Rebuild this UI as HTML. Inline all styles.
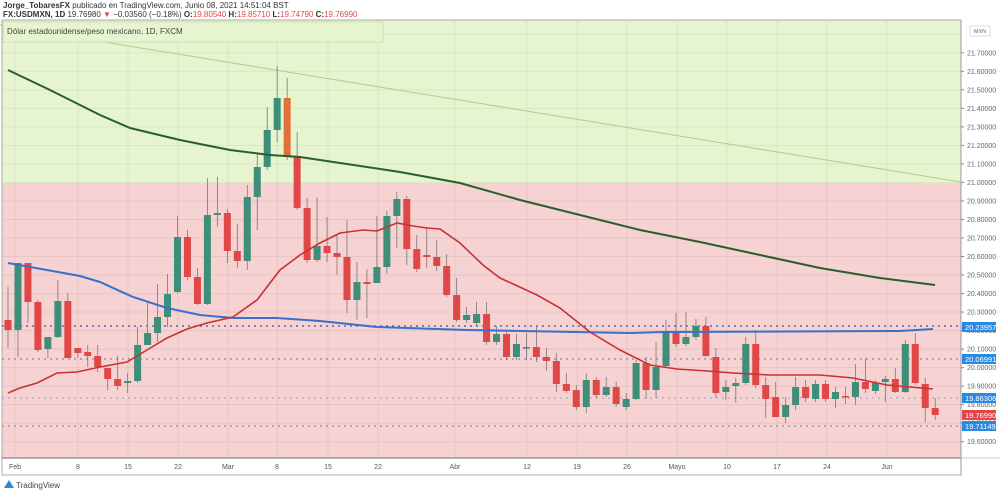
<!DOCTYPE html>
<html><head><meta charset="utf-8"><style>
body{margin:0;width:1000px;height:494px;background:#fff;overflow:hidden;font-family:"Liberation Sans",sans-serif;position:relative}
.h{position:absolute;left:3px;font-size:8px;color:#333;white-space:nowrap}
</style></head><body>
<div class="h" style="top:1px"><b>Jorge_TobaresFX</b> publicado en TradingView.com, Junio 08, 2021 14:51:04 BST</div>
<div class="h" style="top:10px"><b>FX:USDMXN, 1D</b> 19.76980 <span style="color:#e04848">▼</span> −0.03560 (−0.18%) <b>O:</b><span style="color:#e04848">19.80540</span> <b>H:</b><span style="color:#e04848">19.85710</span> <b>L:</b><span style="color:#e04848">19.74790</span> <b>C:</b><span style="color:#e04848">19.76990</span></div>
<svg id="s" width="1000" height="494" style="position:absolute;left:0;top:0" xmlns="http://www.w3.org/2000/svg"></svg>
<script>
var s='';
s+='<rect x="2" y="20" width="959" height="163" fill="#e6f5cf"/>';
s+='<rect x="2" y="183" width="959" height="275" fill="#f6d2d2"/>';
// horizontal grid
for(var i=0;i<=22;i++){var p=19.6+i*0.1;var y=441.7-(p-19.6)*185.2;if(y>20&&y<458)s+='<line x1="2" x2="961" y1="'+y+'" y2="'+y+'" stroke="#000" stroke-opacity="0.06"/>';}
var xt=[[15,'Feb'],[78,'8'],[128,'15'],[178,'22'],[228,'Mar'],[277,'8'],[328,'15'],[378,'22'],[455,'Abr'],[527,'12'],[577,'19'],[627,'26'],[677,'Mayo'],[727,'10'],[777,'17'],[827,'24'],[887,'Jun']];
xt.forEach(function(t){s+='<line x1="'+t[0]+'" x2="'+t[0]+'" y1="20" y2="458" stroke="#000" stroke-opacity="0.06"/>';s+='<text x="'+t[0]+'" y="469" font-size="7" fill="#555" text-anchor="middle">'+t[1]+'</text>';});
// price labels
for(var i=0;i<=21;i++){var p=19.6+i*0.1;var y=441.7-(p-19.6)*185.2;s+='<text x="967" y="'+(y+2.5)+'" font-size="7" fill="#666">'+p.toFixed(5)+'</text><line x1="961" x2="964" y1="'+y+'" y2="'+y+'" stroke="#888"/>';}
s+='<rect x="970" y="26" width="20" height="10" fill="#fff" stroke="#bbb" stroke-width="0.5"/><text x="980" y="33" font-size="5.5" fill="#666" text-anchor="middle">MXN</text>';
// diag line
s+='<line x1="0" y1="25" x2="961" y2="182" stroke="#a8d08d" stroke-width="1"/>';
// title box
s+='<rect x="3" y="22" width="380" height="20" fill="#e6f5cf" stroke="#c8ddb0" stroke-width="0.8"/><text x="7" y="34" font-size="8" fill="#444">Dólar estadounidense/peso mexicano, 1D, FXCM</text>';
// dotted lines
[[326,'#3355aa'],[359,'#8888aa'],[398,'#aab'],[426,'#8888aa']].forEach(function(d){s+='<line x1="2" x2="961" y1="'+d[0]+'" y2="'+d[0]+'" stroke="'+d[1]+'" stroke-width="1.3" stroke-dasharray="2,4"/>';});
function pl(pts,c,w){s+='<polyline fill="none" stroke="'+c+'" stroke-width="'+w+'" points="'+pts.map(function(p){return p.join(',')}).join(' ')+'"/>';}
var C=[[320,330,287,348,'r'],[263,330,263,357,'g'],[263,302,263,323,'r'],[302,350,300,352,'r'],[349,337,337,358,'g'],[337,301,280,338,'g'],[301,358,293,358,'r'],[348,353,348,358,'r'],[352,356,345,367,'r'],[356,367,345,372,'r'],[368,379,368,390,'r'],[379,386,356,390,'r'],[383,381,373,393,'g'],[381,345,327,383,'g'],[345,333,301,345,'g'],[333,317,284,342,'g'],[317,294,274,327,'g'],[292,237,216,293,'g'],[237,277,230,280,'r'],[277,304,268,305,'r'],[304,215,178,305,'g'],[215,213,177,227,'g'],[213,251,209,263,'r'],[251,261,224,268,'r'],[261,197,185,270,'g'],[197,167,153,230,'g'],[167,130,107,170,'g'],[130,98,66,142,'g'],[98,156,78,160,'o'],[156,208,132,210,'r'],[208,260,198,263,'r'],[260,246,197,262,'g'],[246,253,217,262,'r'],[253,257,235,275,'r'],[257,300,220,313,'r'],[300,282,262,320,'g'],[282,284,269,318,'r'],[283,267,216,283,'g'],[267,216,211,274,'g'],[216,199,192,248,'g'],[199,249,196,265,'r'],[249,269,235,272,'r'],[255,257,227,268,'r'],[257,266,240,271,'r'],[266,295,254,297,'r'],[295,320,278,322,'r'],[320,315,307,323,'g'],[323,314,302,327,'g'],[314,342,302,345,'r'],[342,334,326,345,'g'],[334,357,332,360,'r'],[357,344,334,360,'g'],[347,348,333,360,'g'],[347,357,327,362,'r'],[357,361,348,371,'r'],[361,384,353,392,'r'],[384,391,373,393,'r'],[390,407,385,410,'r'],[407,380,373,413,'g'],[380,395,377,398,'r'],[395,387,377,397,'g'],[387,404,382,407,'r'],[407,399,393,410,'g'],[399,363,360,400,'g'],[363,390,357,399,'r'],[390,367,342,398,'g'],[366,332,320,367,'g'],[332,344,313,347,'r'],[344,337,312,346,'g'],[337,326,319,340,'g'],[326,356,317,357,'r'],[357,393,348,398,'r'],[392,387,380,400,'g'],[386,383,378,403,'g'],[383,344,337,385,'g'],[344,385,330,388,'r'],[385,399,377,418,'r'],[397,417,382,417,'r'],[417,405,397,423,'g'],[405,387,377,410,'g'],[387,398,380,402,'r'],[399,384,380,402,'g'],[384,399,380,402,'r'],[399,392,387,408,'g'],[396,397,387,404,'r'],[397,382,364,405,'g'],[382,389,358,393,'r'],[391,383,380,394,'g'],[382,379,376,402,'g'],[379,392,368,393,'r'],[392,344,340,393,'g'],[344,383,333,385,'r'],[384,408,378,422,'r'],[408,415,398,420,'r']];
C.forEach(function(c,i){var x=8+i*9.97;var col=c[4]=='g'?'#3e8e7a':(c[4]=='o'?'#e0703c':'#e04848');var t=Math.min(c[0],c[1]),b=Math.max(c[0],c[1]);if(b-t<1.5)b=t+1.5;
s+='<line x1="'+x+'" x2="'+x+'" y1="'+c[2]+'" y2="'+c[3]+'" stroke="#777" stroke-width="0.8"/>';
s+='<rect x="'+(x-3.5)+'" y="'+t+'" width="7" height="'+(b-t)+'" fill="'+col+'"/>';});
pl([[8,70],[50,90],[100,115],[130,128],[180,140],[230,150],[270,155],[300,157],[340,163],[400,172],[460,183],[520,200],[580,215],[640,230],[700,242],[760,255],[820,268],[880,278],[935,285]],'#2a5e2a',2);
pl([[8,263],[80,276],[100,282],[133,297],[167,308],[200,315],[233,318],[277,318],[320,321],[377,327],[467,330],[630,333],[663,332],[900,331],[933,329]],'#3a6fcc',2);
pl([[8,393],[20,388],[37,383],[57,373],[77,372],[100,367],[127,362],[147,350],[167,338],[187,329],[207,323],[233,317],[257,300],[280,270],[300,255],[320,243],[340,233],[363,230],[377,231],[397,223],[413,226],[427,228],[440,229],[460,243],[483,265],[500,278],[537,295],[560,308],[590,332],[620,350],[650,365],[677,369],[707,371],[733,373],[770,375],[820,375],[853,378],[887,385],[910,387],[933,389]],'#c83232',1.6);
// price tags
[[327,'20.23957','#2a8ae0'],[359,'20.06991','#2a8ae0'],[398,'19.86306','#2a8ae0'],[415,'19.76990','#e04848'],[426,'19.71149','#2a8ae0']].forEach(function(t){s+='<rect x="962" y="'+(t[0]-5)+'" width="34" height="10" fill="'+t[2]+'"/><text x="965" y="'+(t[0]+3)+'" font-size="7.5" fill="#fff">'+t[1]+'</text>';});
// frames
s+='<rect x="2" y="20" width="959" height="455" fill="none" stroke="#999" stroke-width="0.8"/>';
s+='<line x1="2" x2="961" y1="458" y2="458" stroke="#888" stroke-width="1.2"/><line x1="961" x2="1000" y1="458" y2="458" stroke="#bbb" stroke-width="0.8"/><line x1="961" x2="961" y1="20" y2="475" stroke="#999"/>';
s+='<path d="M4 488 L9 480 L14 488 Z" fill="#2a8ae0"/><text x="16" y="488" font-size="8" fill="#444">TradingView</text>';
document.getElementById('s').innerHTML=s;
</script>
</body></html>
